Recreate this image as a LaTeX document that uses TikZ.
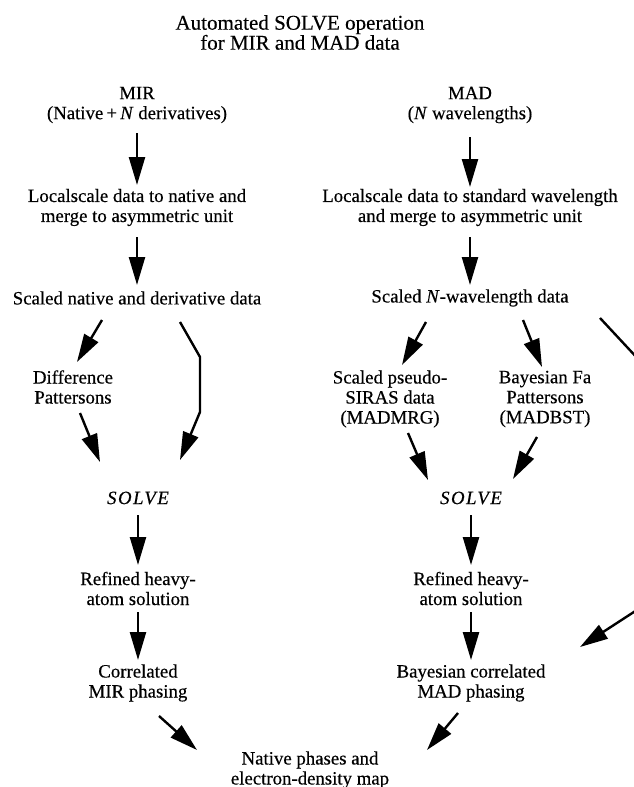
\documentclass[tikz,border=0pt]{standalone}
\usepackage{fontspec}
\setmainfont{Liberation Serif}[UprightFeatures={FakeBold=0.35},ItalicFeatures={FakeBold=0.35}]
\newfontfamily\spacedserif{Liberation Serif}[LetterSpace=8,UprightFeatures={FakeBold=0.35},ItalicFeatures={FakeBold=0.35}]
\usetikzlibrary{arrows.meta}
\begin{document}
\begin{tikzpicture}[x=1pt,y=-1pt,
  txt/.style={inner sep=0pt, align=center, font=\fontsize{18.8}{20}\selectfont},
  ttl/.style={inner sep=0pt, align=center, font=\fontsize{21}{20}\selectfont},
  arr/.style={line width=2.4pt, -{Triangle[length=28pt,width=16pt]}},
  lin/.style={line width=2.4pt}]
\fill[white] (0,0) rectangle (634,787);
\useasboundingbox (0,0) rectangle (634,787);
% nodes
\node[ttl] (title) at (300,32.5) {Automated SOLVE operation\\for MIR and MAD data};
\node[txt] (mir) at (137,105) {MIR\\(Native\,+\,\textit{N} derivatives)};
\node[txt] (mad) at (470,105) {MAD\\(\textit{N} wavelengths)};
\node[txt] (locl) at (137,207.5) {Localscale data to native and\\merge to asymmetric unit};
\node[txt] (locr) at (470,207.5) {Localscale data to standard wavelength\\and merge to asymmetric unit};
\node[txt] (scl) at (137,298) {Scaled native and derivative data};
\node[txt] (scr) at (470,298) {Scaled \textit{N}-wavelength data};
\node[txt] (diff) at (73,387) {Difference\\Pattersons};
\node[txt] (pseudo) at (390,399) {Scaled pseudo-\\SIRAS data\\(MADMRG)};
\node[txt] (bfa) at (545,399) {Bayesian Fa\\Pattersons\\(MADBST)};
\node[txt] (solvel) at (138,498) {{\spacedserif\itshape SOLVE}};
\node[txt] (solver) at (471,498) {{\spacedserif\itshape SOLVE}};
\node[txt] (refl) at (138,588.5) {Refined heavy-\\atom solution};
\node[txt] (refr) at (471,588.5) {Refined heavy-\\atom solution};
\node[txt] (corl) at (138,683) {Correlated\\MIR phasing};
\node[txt] (corr) at (471,683) {Bayesian correlated\\MAD phasing};
\node[txt] (nat) at (310,770) {Native phases and\\electron-density map};
\coordinate (exitA) at (640,361);
\coordinate (entB) at (640,608);
% connectors
\draw[arr] ([shift={(0,28)}]mir.center) -- ([shift={(0,-22.5)}]locl.center);
\draw[arr] ([shift={(0,29.5)}]locl.center) -- ([shift={(0,-13)}]scl.center);
\draw[arr] ([shift={(0,32)}]mad.center) -- ([shift={(0,-20.5)}]locr.center);
\draw[arr] ([shift={(0,29.5)}]locr.center) -- ([shift={(0,-13)}]scr.center);
\draw[arr] ([shift={(-35,22)}]scl.center) -- ([shift={(4,-25)}]diff.center);
\draw[arr] ([shift={(43,24)}]scl.center) -- ([shift={(63,59)}]scl.center) -- ([shift={(62,-86)}]solvel.center) -- ([shift={(42,-38)}]solvel.center);
\draw[arr] ([shift={(7,26)}]diff.center) -- ([shift={(-38,-36)}]solvel.center);
\draw[arr] ([shift={(-44,24)}]scr.center) -- ([shift={(12,-34)}]pseudo.center);
\draw[arr] ([shift={(53,22)}]scr.center) -- ([shift={(-3,-32)}]bfa.center);
\draw[lin] ([shift={(130,20)}]scr.center) -- (exitA);
\draw[arr] ([shift={(18,34)}]pseudo.center) -- ([shift={(-43,-18)}]solver.center);
\draw[arr] ([shift={(-8,38)}]bfa.center) -- ([shift={(42,-19)}]solver.center);
\draw[arr] ([shift={(0,17)}]solvel.center) -- ([shift={(0,-23.5)}]refl.center);
\draw[arr] ([shift={(0,17)}]solver.center) -- ([shift={(0,-23.5)}]refr.center);
\draw[arr] ([shift={(0,23.5)}]refl.center) -- ([shift={(0,-23)}]corl.center);
\draw[arr] ([shift={(0,23.5)}]refr.center) -- ([shift={(0,-23)}]corr.center);
\draw[arr] (entB) -- ([shift={(109,-36)}]corr.center);
\draw[arr] ([shift={(21,33)}]corl.center) -- ([shift={(-113,-20)}]nat.center);
\draw[arr] ([shift={(-13,30)}]corr.center) -- ([shift={(117,-20)}]nat.center);
\end{tikzpicture}
\end{document}
